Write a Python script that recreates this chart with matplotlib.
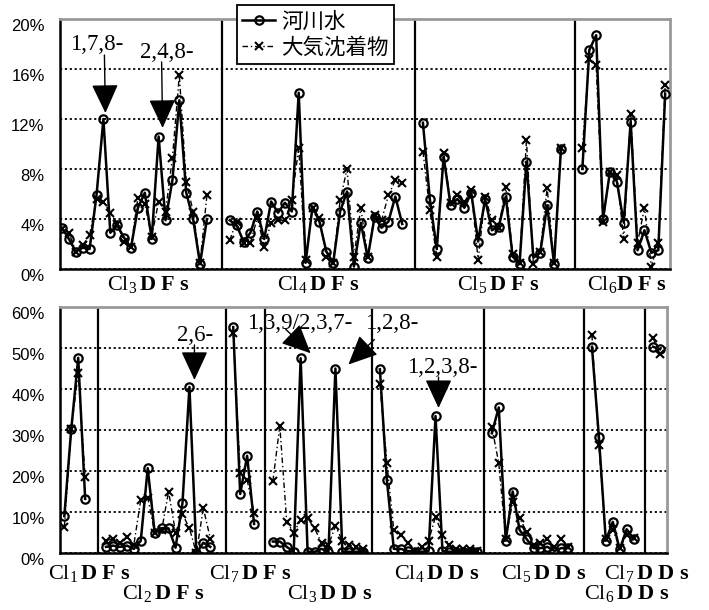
import numpy as np
import matplotlib
matplotlib.use('Agg')
import matplotlib.pyplot as plt
from matplotlib.lines import Line2D

plt.rcParams['font.family'] = ['Liberation Sans', 'Noto Sans CJK JP']
plt.rcParams['mathtext.fontset'] = 'custom'
plt.rcParams['mathtext.rm'] = 'Liberation Serif'
plt.rcParams['mathtext.bf'] = 'Liberation Serif:bold'
plt.rcParams['mathtext.it'] = 'Liberation Serif:italic'

# ---- data (% of homologue total) ----
# upper panel: PCDFs Cl3-Cl6
river_cl3dfs = [3.3, 2.4, 1.4, 1.7, 1.6, 5.9, 12.0, 2.9, 3.5, 2.5, 1.7, 4.9, 6.1, 2.4, 10.6, 3.9, 7.1, 13.5, 6.1, 4.0, 0.4, 4.0]
atmo_cl3dfs = [3.2, 2.9, 1.4, 1.9, 2.7, 5.6, 5.4, 4.5, 3.6, 2.2, 1.8, 5.7, 5.2, 2.6, 5.4, 4.6, 8.9, 15.5, 7.0, 4.6, 0.5, 5.9]
river_cl4dfs = [3.9, 3.5, 2.2, 2.9, 4.6, 2.4, 5.4, 4.5, 5.3, 4.6, 14.1, 0.5, 5.0, 3.8, 1.4, 0.5, 4.6, 6.2, 0.2, 3.7, 0.9, 4.2, 3.3, 3.8, 5.8, 3.6]
atmo_cl4dfs = [2.3, 3.8, 2.1, 2.1, 4.1, 1.8, 3.7, 3.9, 3.9, 5.5, 9.7, 0.7, 4.9, 4.1, 1.0, 0.5, 5.5, 8.0, 1.0, 4.9, 1.0, 4.3, 3.9, 5.9, 7.1, 6.9]
river_cl5dfs = [11.7, 5.6, 1.6, 9.0, 5.1, 5.6, 4.9, 6.1, 2.2, 5.6, 3.1, 3.4, 5.8, 1.0, 0.4, 8.6, 0.9, 1.3, 5.1, 0.4, 9.6]
atmo_cl5dfs = [9.4, 4.7, 1.0, 9.3, 5.3, 5.9, 5.4, 6.3, 0.7, 5.8, 3.9, 3.3, 6.6, 1.2, 0.5, 10.3, 0.4, 1.4, 6.5, 0.5, 9.7]
river_cl6dfs = [8.0, 17.5, 18.7, 4.0, 7.8, 7.0, 3.7, 11.8, 1.5, 3.1, 1.3, 1.5, 14.0]
atmo_cl6dfs = [9.7, 16.8, 16.3, 3.8, 7.8, 7.5, 2.4, 12.4, 2.1, 4.9, 0.2, 2.1, 14.7]

# lower panel
river_cl1dfs = [9.0, 30.2, 47.6, 13.2]
atmo_cl1dfs = [6.3, 30.2, 43.9, 18.5]
river_cl2dfs = [1.5, 1.8, 1.5, 1.8, 1.0, 3.0, 20.7, 5.0, 6.0, 6.0, 1.3, 12.2, 40.5, 0.0, 2.5, 1.5]
atmo_cl2dfs = [3.0, 3.5, 2.5, 4.0, 2.0, 13.0, 13.5, 5.0, 5.5, 15.0, 5.0, 9.5, 6.0, 0.0, 11.0, 3.5]
river_cl7dfs = [55.1, 14.4, 23.7, 7.1]
atmo_cl7dfs = [53.7, 19.5, 17.8, 9.8]
river_cl3dds = [2.8, 2.8, 1.5, 0.3, 47.5, 0.3, 0.3, 1.0, 0.3, 45.0, 0.3, 0.3, 0.3, 0.3]
atmo_cl3dds = [17.5, 31.0, 7.5, 5.0, 8.0, 8.5, 6.0, 2.5, 2.0, 6.5, 3.0, 2.0, 1.5, 1.0]
river_cl4dds = [44.8, 17.8, 1.0, 1.0, 0.5, 0.3, 0.3, 0.5, 33.4, 0.5, 0.3, 0.3, 0.3, 0.3, 0.3]
atmo_cl4dds = [41.2, 22.0, 5.5, 4.5, 2.5, 0.5, 1.5, 3.0, 8.8, 4.5, 2.0, 1.0, 1.0, 1.0, 0.5]
river_cl5dds = [29.2, 35.5, 3.0, 15.0, 5.6, 3.4, 1.2, 1.2, 1.5, 0.5, 1.2, 1.2]
atmo_cl5dds = [30.8, 21.9, 3.5, 12.5, 8.5, 5.2, 2.0, 2.5, 3.5, 1.5, 3.5, 1.5]
river_cl6dds = [50.3, 28.4, 3.0, 7.6, 0.9, 5.8, 3.4]
atmo_cl6dds = [53.2, 26.3, 3.5, 5.7, 1.3, 4.4, 3.6]
river_cl7dds = [50.3, 49.7]
atmo_cl7dds = [52.4, 48.5]

top_river = [river_cl3dfs, river_cl4dfs, river_cl5dfs, river_cl6dfs]
top_atmo = [atmo_cl3dfs, atmo_cl4dfs, atmo_cl5dfs, atmo_cl6dfs]
top_labels = [r'$\mathrm{Cl}_{3}\,\mathbf{D\ F\ s}$', r'$\mathrm{Cl}_{4}\,\mathbf{D\ F\ s}$',
              r'$\mathrm{Cl}_{5}\,\mathbf{D\ F\ s}$', r'$\mathrm{Cl}_{6}\mathbf{D\ F\ s}$']
bot_river = [river_cl1dfs, river_cl2dfs, river_cl7dfs, river_cl3dds,
             river_cl4dds, river_cl5dds, river_cl6dds, river_cl7dds]
bot_atmo = [atmo_cl1dfs, atmo_cl2dfs, atmo_cl7dfs, atmo_cl3dds,
            atmo_cl4dds, atmo_cl5dds, atmo_cl6dds, atmo_cl7dds]
bot_labels = [r'$\mathrm{Cl}_{1}\,\mathbf{D\ F\ s}$', r'$\mathrm{Cl}_{2}\,\mathbf{D\ F\ s}$',
              r'$\mathrm{Cl}_{7}\,\mathbf{D\ F\ s}$', r'$\mathrm{Cl}_{3}\,\mathbf{D\ D\ s}$',
              r'$\mathrm{Cl}_{4}\,\mathbf{D\ D\ s}$', r'$\mathrm{Cl}_{5}\,\mathbf{D\ D\ s}$',
              r'$\mathrm{Cl}_{6}\,\mathbf{D\ D\ s}$', r'$\mathrm{Cl}_{7}\,\mathbf{D\ D\ s}$']

# ---- layout ----
top_gaps = [3.3, 3.0, 3.1]
bot_gaps = [3.0, 3.3, 2.7, 2.4, 2.1, 3.4, 2.8]
top_label_x = [12.5, 37.1, 63.2, 81.9]
top_label_row = [0, 0, 0, 0]
bot_label_x = [3.6, 14.3, 26.7, 38.2, 53.5, 69.0, 80.95, 83.7]
bot_label_row = [0, 1, 0, 1, 0, 0, 1, 0]

fig = plt.figure(figsize=(7.09, 6.10), dpi=100)
ax_top = fig.add_axes([60 / 709, 1 - 269 / 610, 610 / 709, 250 / 610])
ax_bot = fig.add_axes([60 / 709, 1 - 553 / 610, 607 / 709, 246 / 610])


def draw_panel(ax, rivers, atmos, gaps, xlim, ymax, ystep):
    positions = []
    start = 0.0
    for i, (r, a) in enumerate(zip(rivers, atmos)):
        if i > 0:
            start = positions[-1][-1] + gaps[i - 1]
            ax.axvline(start - 1.1, color='k', lw=1.6, zorder=1.5)
        x = start + np.arange(len(r))
        positions.append(x)
        ax.plot(x, a, color='k', lw=1.0, ls=(0, (4, 2, 1, 2)), marker='x',
                ms=6.2, mew=1.5, zorder=3)
        ax.plot(x, r, color='k', lw=1.8, ls='-', marker='o', ms=6.0,
                mfc='none', mew=1.6, zorder=4)
    ax.set_xlim(*xlim)
    ax.set_ylim(0, ymax)
    ticks = np.arange(0, ymax + 0.1, ystep)
    ax.set_yticks(ticks, [f'{t:.0f}%' for t in ticks])
    for lbl in ax.get_yticklabels():
        lbl.set_verticalalignment('top')
    ax.set_xticks([])
    ax.tick_params(axis='y', length=0, pad=11, labelsize=12)
    ax.set_axisbelow(True)
    ax.yaxis.grid(True, color='k', lw=1.3, ls=(0, (1.2, 1.5)))
    for side in ['left', 'bottom']:
        ax.spines[side].set_color('k')
        ax.spines[side].set_linewidth(1.8)
    for side in ['top', 'right']:
        ax.spines[side].set_color('#999999')
        ax.spines[side].set_linewidth(2.0)
    return positions


top_pos = draw_panel(ax_top, top_river, top_atmo, top_gaps, (-0.29, 88.1), 20, 4)
bot_pos = draw_panel(ax_bot, bot_river, bot_atmo, bot_gaps, (-0.62, 86.7), 60, 10)


def place_labels(ax, labels, xs, rows, row_offsets):
    y0 = ax.transAxes.transform((0, 0))[1]
    for lab, x, row in zip(labels, xs, rows):
        px = ax.transData.transform((x, 0))[0]
        fig.text(px / 709, (y0 - row_offsets[row]) / 610, lab, ha='center',
                 va='center', fontsize=16)


place_labels(ax_top, top_labels, top_label_x, top_label_row, [15])
place_labels(ax_bot, bot_labels, bot_label_x, bot_label_row, [20, 41])

# arrows: (axes, positions, rivers, group, index, text, tip, tail, text offset) in pixels
notes = [
    (ax_top, top_pos, top_river, 0, 6, '1,7,8-', (2, 6), (1, 64), (-7, 75)),
    (ax_top, top_pos, top_river, 0, 14, '2,4,8-', (4, 8.5), (3, 74.5), (8, 84.5)),
    (ax_bot, bot_pos, bot_river, 1, 12, '2,6-', (5, 7), (5, 42), (6, 51)),
    (ax_bot, bot_pos, bot_river, 3, 4, '1,3,9/2,3,7-', (10, 5), (-15, 29), (-1, 35)),
    (ax_bot, bot_pos, bot_river, 3, 9, '1,2,8-', (13, 4), (39, 29), (56, 45)),
    (ax_bot, bot_pos, bot_river, 4, 8, '1,2,3,8-', (3, 8), (3, 39), (7, 49)),
]
for ax, pos, rivers, g, k, txt, tip, tail, toff in notes:
    px, py = ax.transData.transform((pos[g][k], rivers[g][k]))
    fig.text((px + toff[0]) / 709, (py + toff[1]) / 610, txt, ha='center', va='center',
             fontsize=16.5, family='Liberation Serif')
    ax.annotate('', xy=(px + tip[0], py + tip[1]), xycoords='figure pixels',
                xytext=(px + tail[0], py + tail[1]), textcoords='figure pixels',
                arrowprops=dict(arrowstyle='-|>,head_length=1.3,head_width=0.6',
                                mutation_scale=14, color='k', lw=1.0,
                                shrinkA=0, shrinkB=0))

handles = [
    Line2D([], [], color='k', lw=1.8, marker='o', ms=6.0, mfc='none', mew=1.6),
    Line2D([], [], color='k', lw=1.0, ls=(0, (4, 2, 1, 2)), marker='x', ms=6.2, mew=1.5),
]
leg = fig.legend(handles, ['河川水', '大気沈着物'], loc='upper left',
                 bbox_to_anchor=(237 / 709, 605 / 610), bbox_transform=fig.transFigure,
                 prop={'family': 'Noto Sans CJK JP', 'size': 15.5}, frameon=True,
                 fancybox=False, framealpha=1, edgecolor='k', borderpad=0.25,
                 handlelength=1.5, handletextpad=0.3, labelspacing=0.2,
                 borderaxespad=0, numpoints=1)
leg.get_frame().set_linewidth(1.3)

fig.savefig('out.png', dpi=100)
